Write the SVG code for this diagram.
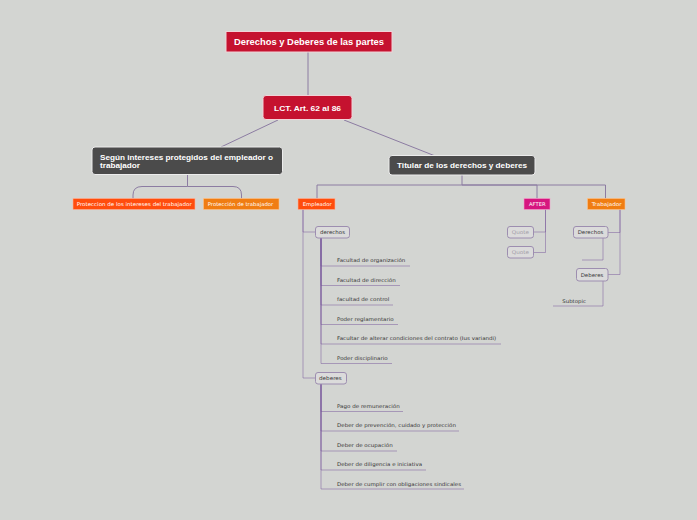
<svg xmlns="http://www.w3.org/2000/svg" width="697" height="520" viewBox="0 0 697 520">
<style>
.bg{fill:#d3d5d2}
.c{fill:none;stroke:#8c7ca2;stroke-width:1}
.s{fill:none;stroke:#7a5a9c;stroke-width:1;stroke-opacity:0.5}
.red{fill:#c5122f;stroke:#f2d3d8;stroke-width:1}
.dark{fill:#4b4b4b;stroke:#ececec;stroke-width:1}
.or1{fill:#ff4d0d;stroke:#ffb59a;stroke-width:0.6}
.or2{fill:#f07d12;stroke:#ffc48a;stroke-width:0.6}
.mag{fill:#d6167f;stroke:#f3a0cc;stroke-width:0.6}
.grey{fill:#dbdbdb;stroke:#9d8eb0;stroke-width:1}
text{font-family:"DejaVu Sans",Verdana,sans-serif}
.tb{font-family:"Liberation Sans",Arial,sans-serif;font-weight:bold;fill:#fff}
.tw{fill:#fff;font-size:5.2px;text-anchor:middle}
.tg{fill:#333;font-size:5.2px;text-anchor:middle}
.tq{fill:#a39ea8;font-size:5.2px;text-anchor:middle}
.ti{fill:#333;font-size:5px}
</style>
<rect class="bg" x="0" y="0" width="697" height="520"/>
<g id="connectors">
<path class="c" d="M308,52 V95.5"/>
<path class="c" d="M278,120 L221,147"/>
<path class="c" d="M344,120 L434,155.5"/>
<path class="c" d="M187.5,174.5 V186.5 M187.5,186.5 H142 Q133,186.5 133,195 V198.5 M187.5,186.5 H233 Q241.5,186.5 241.5,195 V198.5"/>
<path class="c" d="M462,175 V185 H317 V198.5 M462,185 H537 V198.5 M462,185 H605.5 V198.5"/>
<path class="s" d="M303,209.5 V232 H315.5"/>
<path class="s" d="M303,209.5 V378 H315.5"/>
<path class="s" d="M321,238 V266 H410"/>
<path class="s" d="M321,238 V285.5 H400"/>
<path class="s" d="M321,238 V305 H393"/>
<path class="s" d="M321,238 V324.5 H398"/>
<path class="s" d="M321,238 V344 H501"/>
<path class="s" d="M321,238 V363.5 H392"/>
<path class="s" d="M321,384 V411.5 H403"/>
<path class="s" d="M321,384 V431 H459"/>
<path class="s" d="M321,384 V451 H397"/>
<path class="s" d="M321,384 V470 H426"/>
<path class="s" d="M321,384 V489 H464"/>
<path class="s" d="M545.5,209.5 V232 H533.5"/>
<path class="s" d="M545.5,209.5 V252.5 H533.5"/>
<path class="s" d="M620,209.5 V232.5 H608"/>
<path class="s" d="M620,209.5 V274.5 H608"/>
<path class="s" d="M603,238 V260 H582"/>
<path class="s" d="M603,281 V306 H553"/>
</g>
<g id="root">
<rect class="red" x="226" y="31.5" width="166" height="20.5"/>
<text class="tb" x="234" y="45" font-size="9.2" textLength="150" lengthAdjust="spacingAndGlyphs">Derechos y Deberes de las partes</text>
</g>
<g id="lct">
<rect class="red" x="263" y="95.5" width="89" height="24" rx="3"/>
<text class="tb" x="274" y="110.5" font-size="7.6" textLength="67" lengthAdjust="spacingAndGlyphs">LCT. Art. 62 al 86</text>
</g>
<g id="segun">
<rect class="dark" x="92" y="147" width="190.5" height="27.5" rx="3"/>
<text class="tb" x="100" y="159.5" font-size="7.5" textLength="173" lengthAdjust="spacingAndGlyphs">Según intereses protegidos del empleador o</text>
<text class="tb" x="100" y="168" font-size="7.5" textLength="40" lengthAdjust="spacingAndGlyphs">trabajador</text>
</g>
<g id="titular">
<rect class="dark" x="389" y="155.5" width="146" height="19.5" rx="3"/>
<text class="tb" x="397" y="167.8" font-size="8" textLength="130" lengthAdjust="spacingAndGlyphs">Titular de los derechos y deberes</text>
</g>
<g id="prot1">
<rect class="or1" x="73" y="198.5" width="122" height="11"/>
<text class="tw" x="134.2" y="206" textLength="115" lengthAdjust="spacingAndGlyphs">Proteccion de los intereses del trabajador</text>
</g>
<g id="prot2">
<rect class="or2" x="203.5" y="198.5" width="75.5" height="11"/>
<text class="tw" x="240.5" y="206" textLength="65.6" lengthAdjust="spacingAndGlyphs">Protección de trabajador</text>
</g>
<g id="empleador">
<rect class="or1" x="298" y="198.5" width="37" height="11"/>
<text class="tw" x="317.2" y="206" textLength="29" lengthAdjust="spacingAndGlyphs">Empleador</text>
</g>
<g id="after">
<rect class="mag" x="524" y="198.5" width="26" height="11"/>
<text class="tw" x="537.3" y="206" textLength="16.7" lengthAdjust="spacingAndGlyphs">AFTER</text>
</g>
<g id="trabajador">
<rect class="or2" x="587.5" y="198.5" width="37.5" height="11"/>
<text class="tw" x="606.7" y="206" textLength="30" lengthAdjust="spacingAndGlyphs">Trabajador</text>
</g>
<g id="derechos">
<rect class="grey" x="315.5" y="226.5" width="34" height="11.5" rx="2.5"/>
<text class="tg" x="332.5" y="234.4" textLength="25" lengthAdjust="spacingAndGlyphs">derechos</text>
</g>
<g id="deberes">
<rect class="grey" x="315.5" y="372.5" width="31" height="11.5" rx="2.5"/>
<text class="tg" x="330.4" y="380.4" textLength="22.7" lengthAdjust="spacingAndGlyphs">deberes</text>
</g>
<g id="quote1">
<rect class="grey" x="507.5" y="226.5" width="26" height="11.5" rx="2.5"/>
<text class="tq" x="520.4" y="234.4" textLength="17.3" lengthAdjust="spacingAndGlyphs">Quote</text>
</g>
<g id="quote2">
<rect class="grey" x="507.5" y="246.5" width="26" height="11.5" rx="2.5"/>
<text class="tq" x="520.4" y="254.4" textLength="17.3" lengthAdjust="spacingAndGlyphs">Quote</text>
</g>
<g id="derechos2">
<rect class="grey" x="573.5" y="226.5" width="34.5" height="11.5" rx="2.5"/>
<text class="tg" x="590.5" y="234.4" textLength="25.7" lengthAdjust="spacingAndGlyphs">Derechos</text>
</g>
<g id="deberes2">
<rect class="grey" x="576.5" y="268.5" width="31.5" height="12.5" rx="2.5"/>
<text class="tg" x="592" y="276.8" textLength="22.7" lengthAdjust="spacingAndGlyphs">Deberes</text>
</g>
<g id="subtopic"><text class="ti" x="562.3" y="302.5" textLength="23.7" lengthAdjust="spacingAndGlyphs">Subtopic</text></g>
<g id="items-derechos">
<text class="ti" x="337" y="262" textLength="68.3" lengthAdjust="spacingAndGlyphs">Facultad de organización</text>
<text class="ti" x="337" y="281.5" textLength="58.7" lengthAdjust="spacingAndGlyphs">Facultad de dirección</text>
<text class="ti" x="337" y="301" textLength="52.3" lengthAdjust="spacingAndGlyphs">facultad de control</text>
<text class="ti" x="337" y="320.5" textLength="56.7" lengthAdjust="spacingAndGlyphs">Poder reglamentario</text>
<text class="ti" x="337" y="340" textLength="159.3" lengthAdjust="spacingAndGlyphs">Facultar de alterar condiciones del contrato (Ius variandi)</text>
<text class="ti" x="337" y="359.5" textLength="50.7" lengthAdjust="spacingAndGlyphs">Poder disciplinario</text>
</g>
<g id="items-deberes">
<text class="ti" x="337" y="407.5" textLength="62.7" lengthAdjust="spacingAndGlyphs">Pago de remuneración</text>
<text class="ti" x="337" y="427" textLength="119" lengthAdjust="spacingAndGlyphs">Deber de prevención, cuidado y protección</text>
<text class="ti" x="337" y="447" textLength="55.7" lengthAdjust="spacingAndGlyphs">Deber de ocupación</text>
<text class="ti" x="337" y="466" textLength="85" lengthAdjust="spacingAndGlyphs">Deber de diligencia e iniciativa</text>
<text class="ti" x="337" y="485.5" textLength="124" lengthAdjust="spacingAndGlyphs">Deber de cumplir con obligaciones sindicales</text>
</g>
</svg>
